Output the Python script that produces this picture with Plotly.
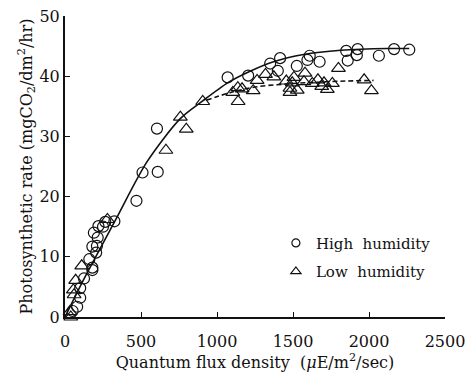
import plotly.graph_objects as go

# Observations: high humidity (circles)
high_x = [50, 80, 100, 100, 125, 160, 180, 180, 205, 210, 180, 215, 190, 220, 250, 265, 325,
          470, 510, 610, 605, 1070, 1205, 1350, 1400, 1415, 1525, 1595, 1610, 1675, 1850,
          1860, 1920, 1925, 2065, 2165, 2265]
high_y = [1.0, 1.7, 3.2, 4.8, 6.4, 9.6, 7.8, 8.2, 10.7, 11.8, 11.7, 13.2, 14.0, 15.1, 15.0,
          15.8, 15.9, 19.3, 24.0, 24.1, 31.3, 39.8, 40.1, 42.1, 40.9, 43.0, 41.7, 42.7, 43.4,
          42.4, 44.2, 42.6, 43.5, 44.5, 43.4, 44.5, 44.4]

# Observations: low humidity (triangles)
low_x = [33, 38, 55, 60, 70, 110, 279, 664, 759, 798, 906, 1104, 1137, 1139, 1165, 1238, 1264,
         1319, 1374, 1456, 1480, 1480, 1495, 1506, 1528, 1572, 1579, 1627, 1664, 1689, 1704,
         1726, 1759, 1799, 1968, 2016]
low_y = [0.9, 0.0, 4.5, 3.7, 6.1, 8.5, 16.2, 27.7, 33.2, 31.2, 35.8, 37.3, 38.1, 35.8, 37.9,
         37.6, 39.3, 40.3, 39.9, 39.2, 38.0, 37.3, 38.9, 39.8, 37.7, 39.1, 40.5, 38.8, 39.4,
         38.3, 38.9, 37.8, 38.8, 41.3, 39.4, 37.6]

# Fitted response curves
fit_high_x = [0, 110, 330, 540, 760, 906, 1070, 1207, 1372, 1570, 1814, 2122, 2265]
fit_high_y = [0, 5.6, 16.0, 25.8, 33.0, 35.9, 38.9, 40.7, 42.4, 43.6, 44.3, 44.6, 44.6]
fit_low_x = [930, 1090, 1250, 1450, 1650, 1850, 2030]
fit_low_y = [36.0, 37.3, 38.2, 38.7, 39.0, 39.2, 39.3]

x_ticks = [0, 500, 1000, 1500, 2000, 2500]
y_ticks = [0, 10, 20, 30, 40, 50]

INK = "#111111"
SERIF = "DejaVu Serif, Liberation Serif, serif"

fig = go.Figure()

fig.add_trace(go.Scatter(
    x=fit_high_x, y=fit_high_y, mode="lines",
    line=dict(color=INK, width=1.6, shape="spline", smoothing=0.8),
    showlegend=False, hoverinfo="skip"))
fig.add_trace(go.Scatter(
    x=fit_low_x, y=fit_low_y, mode="lines",
    line=dict(color=INK, width=1.6, dash="5px,3px", shape="spline"),
    showlegend=False, hoverinfo="skip"))

fig.add_trace(go.Scatter(
    x=high_x, y=high_y, mode="markers", cliponaxis=False, showlegend=False,
    marker=dict(symbol="circle-open", size=11, color=INK, line=dict(width=1.2, color=INK))))
fig.add_trace(go.Scatter(
    x=low_x, y=low_y, mode="markers", cliponaxis=False, showlegend=False,
    marker=dict(symbol="triangle-up-open", size=12, color=INK, line=dict(width=1.2, color=INK))))

# Legend entries with compact symbols
fig.add_trace(go.Scatter(
    x=[None], y=[None], mode="markers", name="High  humidity", legendgroup="h",
    marker=dict(symbol="circle-open", size=8, color=INK, line=dict(width=1.2, color=INK))))
fig.add_trace(go.Scatter(
    x=[None], y=[None], mode="markers", name="Low  humidity", legendgroup="l",
    marker=dict(symbol="triangle-up-open", size=9, color=INK, line=dict(width=1.2, color=INK))))

axis_common = dict(
    showline=True, linecolor=INK, linewidth=2, ticks="inside", ticklen=5, tickwidth=1.2,
    tickcolor=INK, showgrid=False, zeroline=False, mirror=False, automargin=False,
    tickfont=dict(family=SERIF, size=16, color=INK),
)

fig.update_layout(
    width=471, height=372,
    margin=dict(l=65, r=26, t=16, b=55),
    paper_bgcolor="white", plot_bgcolor="white",
    font=dict(family=SERIF, color=INK),
    xaxis=dict(range=[0, 2500], tickvals=x_ticks, ticklabelstandoff=9, **axis_common,
               title=dict(text="Quantum flux density  (<i>μ</i>E/m<sup>2</sup>/sec)",
                          font=dict(family=SERIF, size=16, color=INK), standoff=4)),
    yaxis=dict(range=[0, 50], tickvals=y_ticks, **axis_common,
               title=dict(text="Photosynthetic rate (mgCO<sub>2</sub>/dm<sup>2</sup>/hr)",
                          font=dict(family=SERIF, size=16, color=INK), standoff=3)),
    legend=dict(x=0.555, y=0.30, xanchor="left", yanchor="top",
                bgcolor="rgba(0,0,0,0)", tracegroupgap=6,
                font=dict(family=SERIF, size=15, color=INK)),
    showlegend=True,
)

fig.write_html("out.html")
